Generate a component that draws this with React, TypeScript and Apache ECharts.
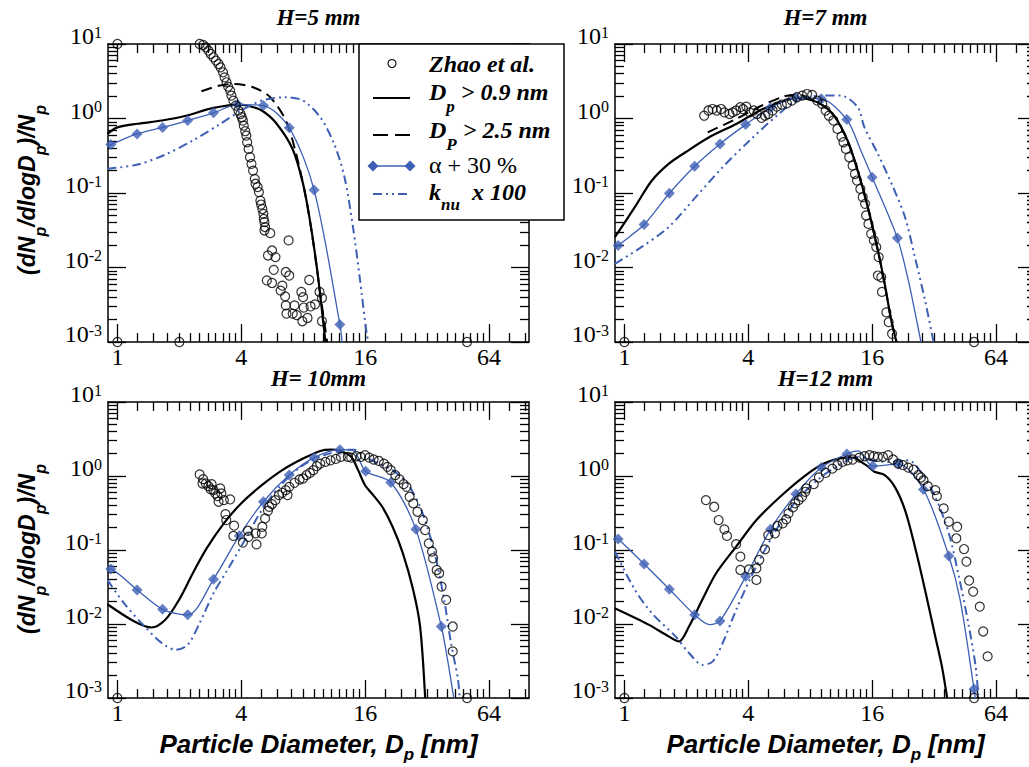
import { useEffect, useRef } from 'react';
import * as echarts from 'echarts';

type P = [number, number];

// ---------- axes ----------
const xMin = 0.9;
const xMax = 100;
const yMin = 0.001;
const yMax = 10;
const xMajorTicks = [1, 4, 16, 64];
const xMinorTicks = [1.25, 1.5, 1.75, 2, 2.25, 2.5, 2.75, 3, 3.25, 3.5, 3.75, 5, 6, 7, 8, 9, 10, 11, 12, 13, 14, 15, 20, 24, 28, 32, 36, 40, 44, 48, 52, 56, 60, 80, 96];
const yMajorTicks = [0.001, 0.01, 0.1, 1, 10];
const yMinorTicks = [0.002, 0.003, 0.004, 0.005, 0.006, 0.007, 0.008, 0.009, 0.02, 0.03, 0.04, 0.05, 0.06, 0.07, 0.08, 0.09, 0.2, 0.3, 0.4, 0.5, 0.6, 0.7, 0.8, 0.9, 2, 3, 4, 5, 6, 7, 8, 9];
const panelTitles = ['H=5 mm', 'H=7 mm', 'H= 10mm', 'H=12 mm'];

// ---------- H = 5 mm ----------
const zhao5: P[] = [[1, 10], [1, 0.001], [2, 0.001], [50, 0.001],
  [2.51, 10], [2.61, 9.7], [2.69, 9.02], [2.77, 8.14], [2.84, 7.35], [2.93, 6.63], [3.01, 5.98], [3.10, 5.39], [3.17, 4.86], [3.26, 4.17],
  [3.32, 3.57], [3.39, 3.06], [3.45, 2.68], [3.53, 2.37], [3.58, 2.03], [3.66, 1.74], [3.76, 1.49], [3.87, 1.28], [3.96, 1.15], [4.02, 1.04],
  [4.07, 0.94], [4.11, 0.80], [4.18, 0.675], [4.23, 0.59], [4.27, 0.48], [4.34, 0.391], [4.41, 0.302], [4.48, 0.246], [4.56, 0.200], [4.65, 0.155],
  [4.69, 0.133], [4.80, 0.120], [4.87, 0.103], [4.95, 0.079], [4.99, 0.070], [5.06, 0.061], [5.12, 0.0525], [5.14, 0.045], [5.18, 0.0406], [5.22, 0.0348],
  [5.18, 0.0314], [5.53, 0.0289],
  [5.39, 0.0145], [5.64, 0.0169], [5.86, 0.0138], [5.75, 0.0093], [6.79, 0.0231], [6.58, 0.0087], [6.84, 0.0078], [5.32, 0.0067], [5.64, 0.0062], [6.33, 0.0057],
  [6.21, 0.0049], [6.53, 0.0041], [7.83, 0.0047], [7.98, 0.0040], [8.55, 0.0068], [9.60, 0.0047], [9.86, 0.0039], [6.58, 0.0031], [7.25, 0.0031], [8.04, 0.0029],
  [8.68, 0.0030], [9.13, 0.0032], [6.63, 0.0024], [7.11, 0.0024], [7.44, 0.0023], [7.92, 0.0019], [8.39, 0.0021], [9.86, 0.0019]];
const dp09_5: P[] = [[0.894, 0.62], [1.0, 0.76], [1.255, 0.85], [1.644, 0.94], [2.153, 1.09], [2.93, 1.39], [3.99, 1.54], [4.48, 1.44], [5.03, 1.28], [5.86, 0.89], [7.1, 0.39], [7.98, 0.133], [8.62, 0.043], [9.31, 0.0101], [9.86, 0.00266], [10.25, 0.001]];
const dp25_5: P[] = [[2.56, 2.32], [3.1, 2.75], [3.7, 2.91], [4.65, 2.57], [5.53, 1.93], [6.58, 0.94], [7.39, 0.335], [8.29, 0.079], [8.96, 0.021], [9.67, 0.0045], [10.45, 0.001]];
const alpha5: P[] = [[0.929, 0.447], [1.246, 0.62], [1.657, 0.76], [2.195, 0.94], [2.93, 1.19], [3.84, 1.54], [5.12, 1.49], [6.84, 0.75], [9.03, 0.110], [12.05, 0.00172]];
const alphaExtra5: P[] = [[0.894, 0.43], [12.4, 0.0009]];
const knu5: P[] = [[0.894, 0.211], [1.255, 0.241], [1.71, 0.328], [2.325, 0.506], [3.16, 0.846], [3.99, 1.28], [5.03, 1.74], [6.58, 1.93], [7.98, 1.74], [9.67, 1.04], [11.3, 0.456], [12.69, 0.163], [13.95, 0.035], [15.04, 0.0074], [16.26, 0.0013], [16.6, 0.001]];

// ---------- H = 7 mm ----------
const zhao7: P[] = [[1, 0.001], [50, 0.001],
  [2.44, 1.09], [2.56, 1.28], [2.68, 1.34], [2.81, 1.28], [2.95, 1.34], [3.06, 1.21], [3.24, 1.15], [3.36, 1.21], [3.49, 1.28], [3.66, 1.42],
  [3.77, 1.34], [3.91, 1.44], [4.06, 1.21], [4.25, 1.28], [4.41, 1.15], [4.64, 1.02], [4.82, 1.09], [5.0, 1.15], [5.25, 1.28], [5.5, 1.44],
  [5.82, 1.54], [6.16, 1.60], [6.51, 1.74], [6.89, 1.93], [7.3, 2.03], [7.72, 2.13], [8.17, 2.07], [8.65, 1.74], [9.15, 1.57], [9.5, 1.28],
  [9.86, 1.09], [10.36, 0.94], [10.84, 0.725], [11.34, 0.571], [11.6, 0.48], [11.92, 0.391], [12.37, 0.302], [12.85, 0.233], [13.19, 0.18], [13.49, 0.147],
  [14.01, 0.1135], [14.39, 0.0879], [14.77, 0.0715], [14.94, 0.0499], [15.34, 0.0385], [15.81, 0.0283], [16.3, 0.0231], [16.74, 0.0188], [17.19, 0.0138], [17.05, 0.0078],
  [17.71, 0.0074], [17.85, 0.0047], [18.74, 0.0025], [19.24, 0.00185], [19.98, 0.00129]];
const dp09_7: P[] = [[0.899, 0.0255], [1.125, 0.065], [1.36, 0.147], [1.64, 0.246], [1.98, 0.352], [2.58, 0.56], [3.49, 0.845], [4.55, 1.28], [5.71, 1.65], [6.89, 1.89], [7.72, 1.83], [8.98, 1.57], [10.44, 1.09], [12.14, 0.506], [13.6, 0.20], [15.23, 0.0646], [17.05, 0.0169], [18.4, 0.006], [19.8, 0.00195], [21.0, 0.001]];
const dp25_7: P[] = [[2.54, 0.653], [3.49, 0.986], [4.55, 1.45], [5.93, 1.97], [6.89, 2.09], [7.72, 1.93], [8.98, 1.57], [10.44, 1.09], [12.14, 0.506], [13.6, 0.2], [15.23, 0.0646], [17.05, 0.0169], [18.4, 0.006], [19.8, 0.00195], [21.0, 0.001]];
const alpha7: P[] = [[0.932, 0.0197], [1.246, 0.0377], [1.654, 0.0993], [2.195, 0.229], [2.914, 0.456], [3.883, 0.828], [5.13, 1.39], [6.81, 1.89], [9.07, 1.83], [12.05, 0.966], [15.99, 0.163], [21.2, 0.0248]];
const alphaExtra7: P[] = [[0.899, 0.018], [14.1, 0.37], [23.97, 0.0067], [26.3, 0.00195], [27.6, 0.001]];
const knu7: P[] = [[0.899, 0.0112], [1.21, 0.0188], [1.64, 0.0348], [2.22, 0.0879], [3.0, 0.222], [4.06, 0.506], [5.5, 1.09], [6.89, 1.74], [8.98, 2.03], [11.26, 2.03], [13.6, 1.42], [14.66, 0.762], [17.05, 0.335], [20.2, 0.12], [23.1, 0.0473], [25.8, 0.0138], [28.9, 0.0036], [31.8, 0.001]];

// ---------- H = 10 mm ----------
const zhao10: P[] = [[1, 0.001], [50, 0.001],
  [2.51, 1.05], [2.61, 0.906], [2.59, 0.792], [2.69, 0.792], [2.77, 0.729], [2.87, 0.776], [2.84, 0.658], [2.93, 0.644], [2.99, 0.581], [3.07, 0.535],
  [3.16, 0.678], [3.20, 0.581], [3.10, 0.449], [3.29, 0.472], [3.53, 0.482], [3.35, 0.305], [3.38, 0.254], [3.69, 0.213], [3.66, 0.155], [4.07, 0.126],
  [4.31, 0.182], [4.34, 0.151], [4.74, 0.119], [4.69, 0.168], [5.03, 0.168], [5.06, 0.206], [5.22, 0.267], [5.39, 0.339], [5.47, 0.384], [5.64, 0.417],
  [5.86, 0.472], [6.09, 0.552], [6.33, 0.593], [6.58, 0.644], [6.71, 0.552], [6.84, 0.714], [7.25, 0.809], [7.68, 0.897], [7.98, 0.925], [8.29, 1.03],
  [8.62, 1.10], [8.96, 1.20], [9.31, 1.36], [9.67, 1.47], [10.25, 1.55], [10.86, 1.63], [11.51, 1.70], [12.19, 1.81], [13.17, 1.81], [13.68, 1.77],
  [14.5, 1.85], [15.24, 1.81], [15.97, 1.91], [16.72, 1.77], [17.58, 1.67], [18.63, 1.60], [19.73, 1.47], [20.5, 1.33], [21.3, 1.20], [22.4, 1.03],
  [23.5, 0.897], [24.6, 0.776], [25.4, 0.714], [26.3, 0.524], [27.4, 0.426], [28.7, 0.329], [30.5, 0.254], [31.3, 0.186], [32.6, 0.123], [33.8, 0.095],
  [34.2, 0.0773], [35.6, 0.0537], [36.6, 0.0485], [37.6, 0.032], [39.6, 0.0212], [42.6, 0.00925], [42.6, 0.00426]];
const dp09_10: P[] = [[0.894, 0.0185], [1.21, 0.0108], [1.464, 0.00897], [1.709, 0.0114], [1.993, 0.0212], [2.325, 0.0485], [2.713, 0.105], [3.29, 0.229], [3.99, 0.426], [5.03, 0.751], [6.33, 1.2], [7.98, 1.72], [9.67, 2.18], [10.86, 2.27], [12.19, 2.18], [13.69, 1.81], [14.78, 1.2], [15.97, 0.751], [17.24, 0.58], [19.36, 0.384], [21.73, 0.206], [24.39, 0.0902], [27.37, 0.0289], [29.57, 0.00925], [31.3, 0.001]];
const alpha10: P[] = [[0.929, 0.0555], [1.246, 0.0289], [1.657, 0.0158], [2.195, 0.0133], [2.93, 0.0402], [3.91, 0.156], [5.12, 0.449], [6.84, 1.03], [9.03, 1.77], [12.05, 2.27], [16.09, 1.16], [21.3, 0.817], [28.2, 0.19], [37.5, 0.00925]];
const alphaExtra10: P[] = [[0.9, 0.056], [14.0, 2.2], [40.2, 0.0033], [43.1, 0.001]];
const knu10: P[] = [[0.894, 0.0394], [1.076, 0.0191], [1.356, 0.00925], [1.644, 0.00552], [1.917, 0.00449], [2.195, 0.00524], [2.51, 0.0103], [2.93, 0.026], [3.42, 0.0537], [3.99, 0.111], [5.03, 0.346], [6.33, 0.792], [7.98, 1.40], [10.06, 1.91], [12.67, 2.23], [14.2, 2.27], [15.97, 1.81], [18.6, 1.47], [21.7, 1.2], [25.3, 0.834], [29.57, 0.384], [34.5, 0.1], [38.7, 0.0212], [41.8, 0.0055], [45.2, 0.00177], [46.0, 0.001]];

// ---------- H = 12 mm ----------
const zhao12: P[] = [[1, 0.001], [50, 0.001],
  [2.49, 0.472], [2.73, 0.384], [2.87, 0.254], [3.06, 0.19], [3.15, 0.155], [3.49, 0.12], [3.66, 0.0813], [3.66, 0.0537], [4.03, 0.0548], [4.38, 0.0566],
  [4.38, 0.0394], [4.52, 0.0733], [4.82, 0.102], [5.0, 0.159], [5.39, 0.168], [5.54, 0.211], [5.88, 0.229], [6.11, 0.259], [6.27, 0.312], [6.59, 0.376],
  [6.76, 0.426], [7.02, 0.472], [7.3, 0.524], [7.57, 0.612], [7.66, 0.678], [8.32, 0.776], [8.81, 0.955], [9.5, 1.10], [10.25, 1.26], [10.84, 1.40],
  [11.47, 1.55], [12.14, 1.63], [12.85, 1.67], [13.85, 1.77], [14.66, 1.85], [15.52, 1.91], [16.3, 1.85], [17.05, 1.81], [18.05, 1.81], [19.1, 1.91],
  [20.2, 1.67], [21.4, 1.47], [22.6, 1.40], [23.95, 1.30], [25.4, 1.22], [26.8, 1.03], [27.6, 0.955], [28.4, 0.879], [29.8, 0.73], [32.4, 0.644],
  [33.0, 0.535], [35.6, 0.365], [37.7, 0.241], [41.4, 0.206], [41.0, 0.144], [44.7, 0.103], [45.9, 0.0697], [47.3, 0.0387], [49.5, 0.0274], [53.3, 0.0172],
  [55.4, 0.00792], [58.2, 0.00365]];
const dp09_12: P[] = [[0.897, 0.0163], [1.31, 0.0098], [1.64, 0.0068], [1.84, 0.0058], [2.06, 0.00925], [2.39, 0.0212], [2.79, 0.0485], [3.49, 0.111], [4.38, 0.254], [5.71, 0.524], [7.43, 0.975], [9.32, 1.47], [11.7, 1.76], [13.1, 1.77], [14.1, 1.55], [15.2, 1.36], [16.4, 1.14], [18.4, 1.03], [20.6, 0.714], [23.1, 0.346], [25.8, 0.111], [28.9, 0.0289], [32.4, 0.0068], [34.9, 0.00267], [37.0, 0.001]];
const alpha12: P[] = [[0.932, 0.141], [1.246, 0.0647], [1.654, 0.0295], [2.195, 0.0133], [2.914, 0.011], [3.883, 0.0437], [5.13, 0.19], [6.81, 0.569], [9.07, 1.30], [12.05, 1.99], [16.1, 1.36], [21.4, 1.45], [28.4, 0.658], [37.7, 0.083], [50.0, 0.00132]];
const alphaExtra12: P[] = [[0.9, 0.145], [2.6, 0.0098], [13.7, 2.18], [42.8, 0.0212], [50.9, 0.0009]];
const knu12: P[] = [[0.9, 0.095], [1.125, 0.0289], [1.36, 0.014], [1.77, 0.0068], [2.06, 0.00405], [2.40, 0.0028], [2.68, 0.0031], [3.0, 0.0055], [3.49, 0.0155], [4.06, 0.0394], [4.72, 0.0902], [5.71, 0.229], [6.89, 0.472], [8.65, 0.879], [10.84, 1.36], [13.6, 1.81], [15.8, 1.63], [19.1, 1.55], [24.0, 1.63], [27.9, 1.08], [32.4, 0.524], [37.7, 0.168], [42.2, 0.0437], [47.2, 0.00925], [50.9, 0.00267], [52.5, 0.001]];

// text pieces: [text, isSubscript]
const legendZhao = 'Zhao et al.';
const legendDp09: [string, boolean][] = [['D', false], ['p', true], [' > 0.9 nm', false]];
const legendDp25: [string, boolean][] = [['D', false], ['P', true], [' > 2.5 nm', false]];
const legendAlpha = 'α + 30 %';
const legendKnu: [string, boolean][] = [['k', false], ['nu', true], ['  x 100', false]];
const yTitlePieces: [string, boolean][] = [['(dN', false], ['p', true], ['/dlogD', false], ['p', true], [')/N', false], ['p', true]];
const xTitlePieces: [string, boolean][] = [['Particle Diameter, D', false], ['p', true], [' [nm]', false]];

// ---------- styling ----------
const BLACK = '#000';
const BLUE = '#3d5fb4';
const SERIF = '"Liberation Serif", "Times New Roman", serif';
const SANS = '"Liberation Sans", Arial, sans-serif';

const panels = [
  { zhao: zhao5, dp09: dp09_5, dp25: dp25_5, alpha: alpha5, alphaExtra: alphaExtra5, knu: knu5 },
  { zhao: zhao7, dp09: dp09_7, dp25: dp25_7, alpha: alpha7, alphaExtra: alphaExtra7, knu: knu7 },
  { zhao: zhao10, dp09: dp09_10, dp25: null as P[] | null, alpha: alpha10, alphaExtra: alphaExtra10, knu: knu10 },
  { zhao: zhao12, dp09: dp09_12, dp25: null as P[] | null, alpha: alpha12, alphaExtra: alphaExtra12, knu: knu12 },
];

const gridBoxes = [
  { left: 108, top: 44, width: 421, height: 298 },
  { left: 615, top: 44, width: 421, height: 298 },
  { left: 108, top: 402, width: 421, height: 296 },
  { left: 615, top: 402, width: 421, height: 296 },
];

const toXY = (pts: P[]) => pts.map(([d, v]) => [Math.log2(d), Math.log10(v)]);
const l2 = (v: number) => Math.log2(v);
const l10 = (v: number) => Math.log10(v);

function buildXAxes(g: number) {
  const base = {
    type: 'value', gridIndex: g, min: l2(xMin), max: l2(xMax),
    splitLine: { show: false },
    axisLine: { show: false, onZero: false },
    axisLabel: { show: false },
    axisTick: { show: false },
  };
  const major = xMajorTicks.map(l2);
  const minor = xMinorTicks.map(l2);
  const line = { show: true, onZero: false, lineStyle: { color: BLACK, width: 1.5 } };
  const tk = (vals: number[], len: number) => ({ show: true, inside: true, length: len, customValues: vals, lineStyle: { color: BLACK, width: 1.3 } });
  return [
    {
      ...base, position: 'bottom', axisLine: line, axisTick: tk(major, 18),
      axisLabel: {
        show: true, customValues: major, margin: 4, color: BLACK, fontFamily: SERIF, fontSize: 24, lineHeight: 22,
        formatter: (v: number) => String(Math.round(Math.pow(2, v))),
      },
    },
    { ...base, position: 'bottom', axisTick: tk(minor, 9) },
    { ...base, position: 'top', axisLine: line, axisTick: tk(major, 18) },
    { ...base, position: 'top', axisTick: tk(minor, 9) },
  ];
}

function buildYAxes(g: number) {
  const base = {
    type: 'value', gridIndex: g, min: l10(yMin), max: l10(yMax),
    splitLine: { show: false },
    axisLine: { show: false, onZero: false },
    axisLabel: { show: false },
    axisTick: { show: false },
  };
  const major = yMajorTicks.map(l10);
  const minor = yMinorTicks.map(l10);
  const line = { show: true, onZero: false, lineStyle: { color: BLACK, width: 1.5 } };
  const tk = (vals: number[], len: number) => ({ show: true, inside: true, length: len, customValues: vals, lineStyle: { color: BLACK, width: 1.3 } });
  return [
    {
      ...base, position: 'left', axisLine: line, axisTick: tk(major, 18),
      axisLabel: {
        show: true, customValues: major, margin: 6, padding: [8, 0, 0, 0],
        formatter: (v: number) => `{b|10}{s|${Math.round(v)}}`,
        rich: {
          b: { fontFamily: SERIF, fontSize: 24, color: BLACK, lineHeight: 48, verticalAlign: 'top' },
          s: { fontFamily: SERIF, fontSize: 16, color: BLACK, lineHeight: 16, verticalAlign: 'top' },
        },
      },
    },
    { ...base, position: 'left', axisTick: tk(minor, 9) },
    { ...base, position: 'right', axisLine: line, axisTick: tk(major, 18) },
    { ...base, position: 'right', axisTick: tk(minor, 9) },
  ];
}

function buildSeries(g: number) {
  const p = panels[g];
  const xi = g * 4;
  const yi = g * 4;
  const common = { xAxisIndex: xi, yAxisIndex: yi, animation: false, silent: true };
  const lineCommon = { ...common, type: 'line', showSymbol: false, symbol: 'none', smooth: 0.3, clip: true };
  const s: any[] = [
    { ...lineCommon, name: 'Dp > 0.9 nm', data: toXY(p.dp09), lineStyle: { color: BLACK, width: 2.2 }, z: 3 },
  ];
  if (p.dp25) {
    s.push({ ...lineCommon, name: 'DP > 2.5 nm', data: toXY(p.dp25), lineStyle: { color: BLACK, width: 2, type: [11, 6] }, z: 3 });
  }
  const alphaLine = [...p.alpha, ...p.alphaExtra].sort((a, b) => a[0] - b[0]);
  s.push({ ...lineCommon, name: legendAlpha, data: toXY(alphaLine), lineStyle: { color: BLUE, width: 1.3 }, z: 4 });
  s.push({ ...common, type: 'scatter', name: legendAlpha + ' pts', data: toXY(p.alpha), symbol: 'diamond', symbolSize: 11, itemStyle: { color: BLUE }, clip: true, z: 5 });
  s.push({ ...lineCommon, name: 'knu x 100', data: toXY(p.knu), lineStyle: { color: BLUE, width: 2, type: [9, 4, 2, 4, 2, 4] }, z: 4 });
  s.push({
    ...common, type: 'scatter', name: legendZhao, data: toXY(p.zhao), symbol: 'circle', symbolSize: 9,
    itemStyle: { color: 'rgba(0,0,0,0)', borderColor: BLACK, borderWidth: 1.2 }, clip: false, z: 6,
  });
  return s;
}

// ----- text with subscripts, laid out from measured widths -----
let measureCtx: CanvasRenderingContext2D | null = null;
function textWidth(text: string, font: string) {
  if (!measureCtx) measureCtx = document.createElement('canvas').getContext('2d');
  if (!measureCtx) return text.length * 10;
  measureCtx.font = font;
  return measureCtx.measureText(text).width;
}

interface SubOpts { family: string; size: number; subSize: number; dy: number; style: string; weight: string; align: 'left' | 'center' }

function subText(pieces: [string, boolean][], o: SubOpts, x: number, y: number, rotation = 0, z = 101) {
  const fontOf = (sz: number) => `${o.style} ${o.weight} ${sz}px ${o.family}`;
  const widths = pieces.map(([t, sub]) => textWidth(t, fontOf(sub ? o.subSize : o.size)));
  const total = widths.reduce((a, b) => a + b, 0);
  let off = o.align === 'center' ? -total / 2 : 0;
  const children = pieces.map(([t, sub], i) => {
    const sz = sub ? o.subSize : o.size;
    const trimmed = t.replace(/^\s+/, '');
    const lead = t.length - trimmed.length;
    const leadW = lead ? textWidth(t.slice(0, lead), fontOf(sz)) : 0;
    const el = {
      type: 'text', x: off + leadW, y: sub ? o.dy : 0, z,
      style: {
        text: trimmed, fontFamily: o.family, fontSize: sz, fontStyle: o.style, fontWeight: o.weight, fill: BLACK,
        align: 'left', verticalAlign: 'middle', textAlign: 'left', textVerticalAlign: 'middle',
      },
    };
    off += widths[i];
    return el;
  });
  return { type: 'group', x, y, rotation, z, children };
}

function buildGraphic() {
  const els: any[] = [];
  const centers = gridBoxes.map((b) => b.left + b.width / 2);
  const titleY = [17, 17, 378, 378];
  panelTitles.forEach((t, i) => {
    els.push({
      type: 'text', x: centers[i], y: titleY[i], z: 50,
      style: { text: t, fontFamily: SERIF, fontSize: 23, fontStyle: 'italic', fontWeight: 'bold', fill: BLACK, align: 'center', verticalAlign: 'middle', textAlign: 'center', textVerticalAlign: 'middle' },
    });
  });
  // axis titles
  const yOpts: SubOpts = { family: SANS, size: 23, subSize: 16, dy: 13, style: 'italic', weight: 'bold', align: 'center' };
  [190, 549].forEach((cy) => els.push(subText(yTitlePieces, yOpts, 27, cy, Math.PI / 2, 50)));
  const xOpts: SubOpts = { family: SANS, size: 26, subSize: 17, dy: 10, style: 'italic', weight: 'bold', align: 'center' };
  [centers[2], centers[3]].forEach((cx) => els.push(subText(xTitlePieces, xOpts, cx, 744, 0, 50)));
  // legend
  const lx1 = 373;
  const lx2 = 410;
  const tx = 429;
  els.push({ type: 'rect', z: 100, shape: { x: 359, y: 44, width: 205, height: 176 }, style: { fill: '#fff', stroke: BLACK, lineWidth: 1.5 } });
  els.push({ type: 'circle', z: 101, shape: { cx: 392, cy: 63.5, r: 4 }, style: { fill: 'none', stroke: BLACK, lineWidth: 1.1 } });
  els.push({ type: 'line', z: 101, shape: { x1: lx1, y1: 98, x2: lx2, y2: 98 }, style: { stroke: BLACK, lineWidth: 2.2 } });
  els.push({ type: 'line', z: 101, shape: { x1: lx1, y1: 135, x2: lx2, y2: 135 }, style: { stroke: BLACK, lineWidth: 2, lineDash: [15, 7] } });
  els.push({ type: 'line', z: 101, shape: { x1: lx1, y1: 166, x2: lx2, y2: 166 }, style: { stroke: BLUE, lineWidth: 1.4 } });
  [lx1, lx2].forEach((cx) => {
    els.push({ type: 'polygon', z: 102, shape: { points: [[cx, 160.5], [cx + 5.5, 166], [cx, 171.5], [cx - 5.5, 166]] }, style: { fill: BLUE } });
  });
  els.push({ type: 'line', z: 101, shape: { x1: lx1, y1: 194, x2: lx2, y2: 194 }, style: { stroke: BLUE, lineWidth: 2, lineDash: [9, 4, 2, 4, 2, 4] } });
  const textBase = { fontFamily: SERIF, fontSize: 24, fontStyle: 'italic', fontWeight: 'bold', fill: BLACK, align: 'left', verticalAlign: 'middle', textAlign: 'left', textVerticalAlign: 'middle' };
  els.push({ type: 'text', z: 101, x: tx, y: 63.5, style: { ...textBase, text: legendZhao } });
  const lOpts: SubOpts = { family: SERIF, size: 24, subSize: 17, dy: 14, style: 'italic', weight: 'bold', align: 'left' };
  els.push(subText(legendDp09, lOpts, tx, 92));
  els.push(subText(legendDp25, lOpts, tx, 130));
  els.push({ type: 'text', z: 101, x: tx, y: 165, style: { ...textBase, fontStyle: 'normal', fontWeight: 'normal', text: legendAlpha } });
  els.push(subText(legendKnu, { ...lOpts, dy: 12 }, tx, 192));
  return els;
}

export default function App() {
  const ref = useRef<HTMLDivElement>(null);
  useEffect(() => {
    if (!ref.current) return;
    const chart = echarts.init(ref.current, null, { renderer: 'svg' });
    const xAxis: any[] = [];
    const yAxis: any[] = [];
    let series: any[] = [];
    for (let g = 0; g < 4; g++) {
      xAxis.push(...buildXAxes(g));
      yAxis.push(...buildYAxes(g));
      series = series.concat(buildSeries(g));
    }
    chart.setOption({
      animation: false,
      backgroundColor: '#fff',
      grid: gridBoxes.map((b) => ({ ...b, containLabel: false, outerBoundsMode: 'none' })),
      xAxis,
      yAxis,
      series,
      graphic: { elements: buildGraphic() },
    });
    return () => chart.dispose();
  }, []);
  return <div ref={ref} style={{ position: 'absolute', left: 0, top: 0, width: 1029, height: 767 }} />;
}
